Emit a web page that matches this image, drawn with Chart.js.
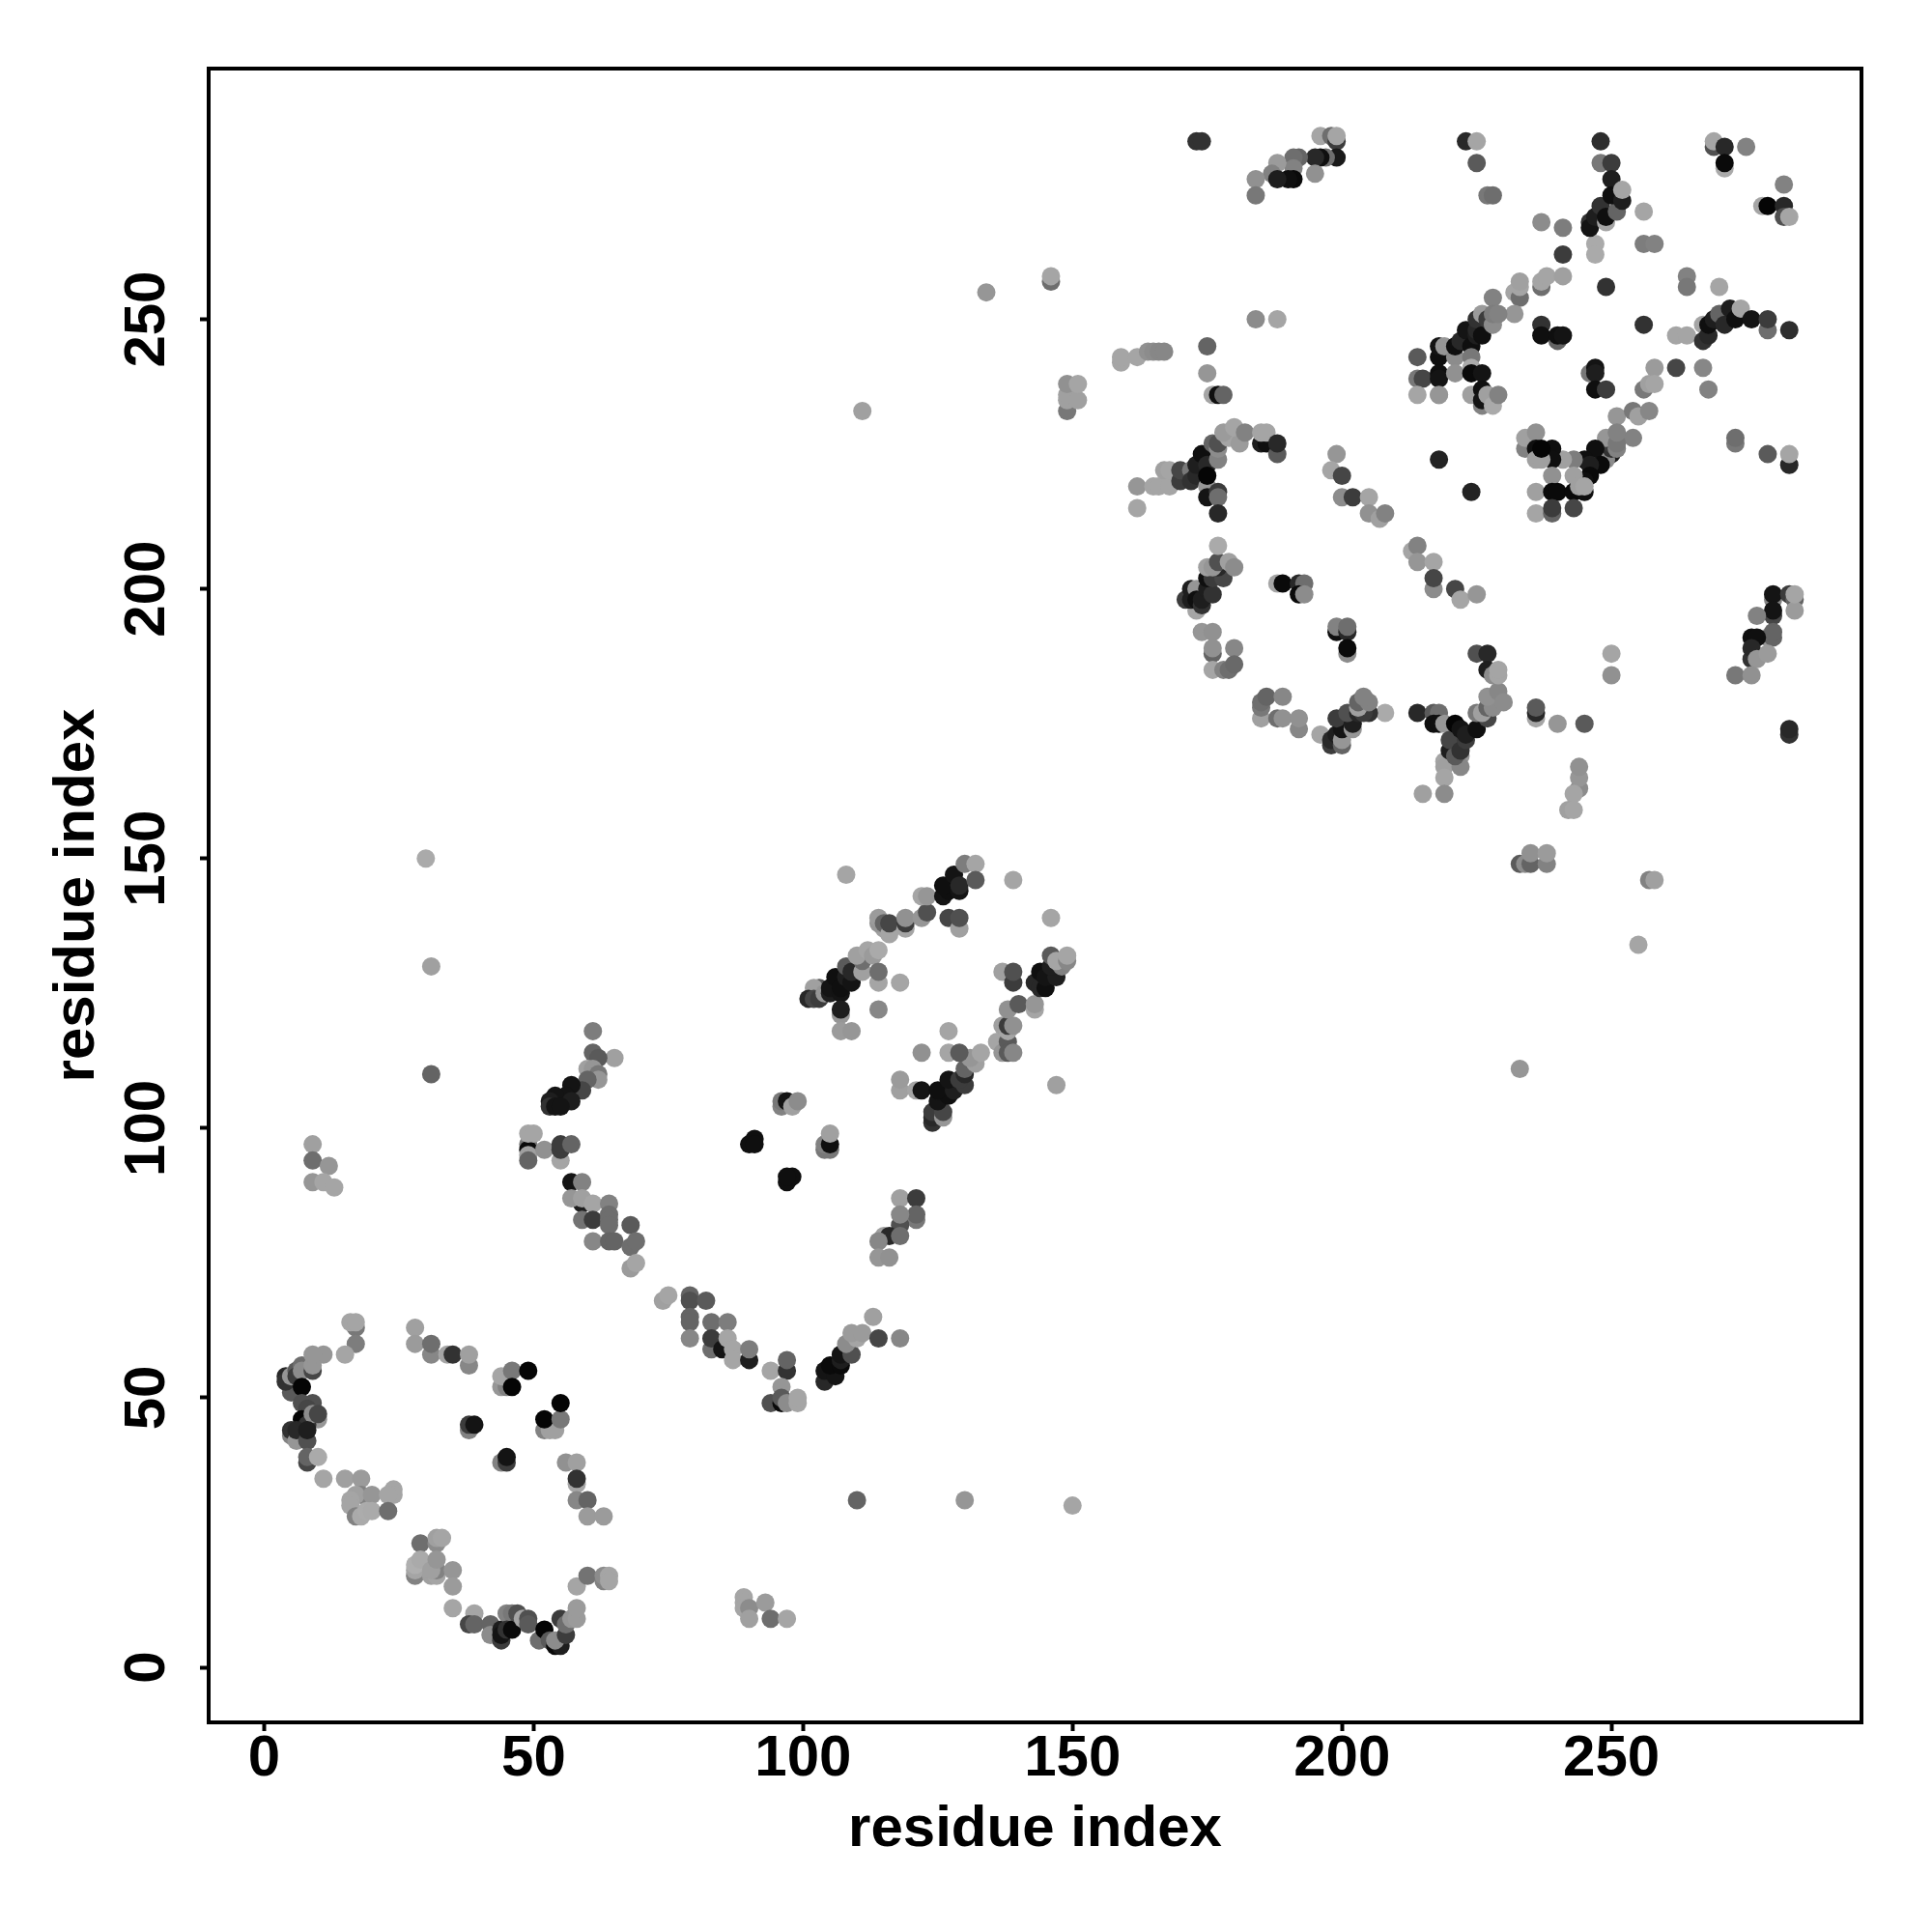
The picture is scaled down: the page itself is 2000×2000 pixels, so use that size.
<!DOCTYPE html>
<html><head><meta charset="utf-8">
<style>html,body{margin:0;padding:0;background:#fff}canvas{display:block}</style>
<script src="https://cdn.jsdelivr.net/npm/chart.js@4"></script>
</head><body><canvas id="c" width="2000" height="2000"></canvas>
<script>
const tickValues=[0,50,100,150,200,250];
const axisTitle="residue index";

const aX=[17,16,17,17,15,11,5,4,4,5,6,7,6,7,9,9,9,7,7,9,8,10,7,8,9,10,5,5,6,6,8,8,8,8,10];
const aY=[63,64,64,60,58,58,51,54,53,54,55,56,54,55,55,56,58,52,49,49,48,46,46,45,47,47,43,44,42,44,42,44,38,39,39];
const aS=[120,165,165,125,165,150,90,40,50,150,90,110,60,140,70,150,150,5,80,80,70,150,5,50,140,70,130,50,150,40,80,30,70,100,170];

const bX=[11,15,18,18,17,20,24,24,23,16,16,17,18,19,20,23,29,32,32,33,28,28,28,29,31,32,32,31,32,35,35,35];
const bY=[35,35,35,32,32,32,33,32,32,31,30,28,28,29,29,29,23,23,24,24,17,18,19,20,17,17,18,18,20,18,15,11];
const bS=[165,160,155,130,160,150,165,165,165,165,165,130,170,172,170,110,110,140,160,165,130,165,175,170,160,165,130,160,150,150,155,165];

const cX=[39,38,39,42,42,44,44,44,45,46,45,46,47,48,49,49,51,52,53,54,55,54,56,55,56,57,58,58,58,60,63,63,64,64];
const cY=[10,8,8,8,6,5,7,6,10,10,7,7,10,9,9,8,5,7,5,4,4,5,6,9,8,9,9,11,15,17,16,17,17,16];
const cS=[165,70,100,100,140,60,30,20,130,120,50,10,80,165,80,90,110,5,90,10,30,140,60,60,110,150,155,155,165,115,130,140,165,165];

const dX=[28,28,31,31,34,35,38,38,44,45,44,46,49,46,52,53,54,52,55,55,38,38,39,44,45,45,56,58,58,58,58,60,60,63];
const dY=[63,60,58,60,58,58,56,58,52,52,54,55,55,52,44,44,44,46,46,49,44,45,45,38,38,39,38,38,34,35,31,31,28,28];
const dS=[160,155,135,110,165,50,135,160,150,130,165,120,5,5,130,160,160,5,120,5,130,60,20,130,60,20,145,160,165,50,135,100,155,155];

const strayX=[89,89,89,90,90,93,94,97,110,130,150,9,9,12,9,11,13,30,31,31];
const strayY=[13,12,11,11,9,12,9,9,31,31,30,97,94,93,90,90,89,150,130,110];
const strayS=[165,165,165,140,160,155,110,165,100,150,165,160,110,150,150,165,165,170,160,100];

const eX=[61,61,65,62,60,61,62,62,60,59,57,56,54,53,57,53,54,55,49,49,49,49,49,50,52,55,55,55,57];
const eY=[118,114,113,113,111,111,110,109,109,107,108,106,106,105,105,104,104,104,97,96,95,94,99,99,96,94,96,97,97];
const eS=[125,100,160,90,160,150,120,150,100,70,20,20,20,30,30,50,20,20,120,10,160,100,165,165,145,165,60,60,100];

const fX=[57,59,59,57,59,61,64,59,61,64,64,64,68,61,64,65,68,69,68,69,74,75,79,79,82,79,79,79,83,86,83,83,85,86,87,87,90,90,94,97,97,96,94,96,96,97,99,99];
const fY=[90,90,86,87,87,86,86,83,83,84,83,82,82,79,79,79,78,79,74,75,68,69,69,68,68,65,64,61,64,64,59,61,59,61,59,57,57,59,55,55,57,52,49,49,50,49,49,50];
const fS=[20,130,30,150,160,165,130,115,60,110,110,110,90,135,100,100,110,110,155,165,160,165,100,80,90,100,100,135,110,125,110,60,20,165,165,165,30,125,165,50,100,150,80,10,90,140,165,165];

const gX=[104,104,106,105,107,107,107,109,108,110,109,111,114,113,118,90,91,91,97,98,97,96,96,97,98,99,104,105,104,105,105,118,121,121,121,118,118,115,116,118,114,114,116];
const gY=[53,55,54,56,56,57,58,58,60,61,62,62,61,65,61,97,98,97,90,91,91,104,105,105,104,105,96,96,97,97,99,87,87,83,84,82,84,80,80,80,79,76,76];
const gS=[40,20,20,10,10,30,20,80,140,165,155,155,70,160,135,15,15,15,15,15,15,130,120,20,160,140,120,120,130,15,160,160,60,120,100,80,135,160,40,110,135,150,145];

const hX=[103,102,101,102,103,104,105,105,106,107,107,108,109,108,109,107,107,107,109,111,111,110,112,113,114,114,114,114,118,108,115,114,114,115,116,116,119,119,119,122,123,122,123,127,129,129,126,127,126,129,128,129,130,132,132,139,146,147];
const hY=[126,126,124,124,124,125,125,126,128,125,126,128,127,130,129,121,122,118,118,129,131,132,133,132,133,122,127,129,127,147,137,138,139,138,136,138,137,138,139,139,140,143,143,139,137,139,143,144,145,144,147,145,149,149,146,146,139,108];
const hS=[90,160,40,70,60,150,30,20,15,20,15,30,20,90,40,150,30,155,150,160,110,160,165,155,170,135,165,110,165,165,160,150,155,100,165,70,165,60,145,150,80,165,150,70,160,80,20,15,15,20,20,40,125,165,90,165,165,160];

const iX=[124,124,124,126,126,118,118,121,122,125,127,125,128,127,130,129,130,130,132,131,133,122,127,127,129,136,137,138,138,139,137,138,138,139,138,140,137,139,139,143,143,143,144,145,144,145,147,146,148,146,147,149,149];
const iY=[101,102,103,102,103,107,109,107,107,105,106,107,107,109,108,109,110,111,112,113,114,114,118,114,114,116,114,116,114,114,119,118,119,119,122,123,129,127,129,122,123,127,126,126,129,128,128,130,130,132,131,131,132];
const iS=[50,40,60,150,70,160,155,165,20,20,15,15,30,20,60,60,40,100,160,150,165,145,165,165,90,165,150,90,90,135,160,165,60,145,145,90,160,60,80,165,150,40,40,15,15,20,30,30,130,90,165,135,165];

const jX=[173,174,196,198,199,199,199,197,196,195,192,191,191,188,187,191,190,188,195,184,184,223,225,225,227,228,237,241,241,247,247,249,248,248,250,250,246,246,247,248,249,249,251,250,252,252,256,256,258];
const jY=[283,283,284,284,283,284,280,280,280,280,280,280,278,279,277,276,276,276,277,276,273,283,283,279,273,273,268,267,262,264,262,256,283,279,279,276,268,267,269,271,268,269,270,273,272,274,270,264,264];
const jS=[50,50,165,110,60,165,25,110,15,40,100,110,130,155,130,10,15,30,145,145,120,40,165,90,120,110,140,125,60,170,170,50,45,120,60,30,50,20,30,50,165,15,100,15,30,165,165,125,130];

const kX=[269,269,271,275,271,271,282,278,279,282,282,283,264,264,270,267,262,264,267,268,268,269,270,271,272,273,274,276,279,279,283,256,237,240,237,240,241];
const kY=[282,283,282,282,278,279,275,271,271,271,269,269,258,256,256,249,247,247,246,247,249,250,251,249,252,250,252,250,248,250,248,249,249,246,247,247,247];
const kS=[80,165,40,130,170,10,130,165,5,40,80,165,130,120,165,165,165,165,50,40,15,30,100,40,30,15,165,20,110,60,45,50,50,100,15,15,20];

const lX=[232,233,233,233,232,237,237,238,241,228,218,218,219,214,214,215,214,218,218,218,221,221,221,222,223,224,225,225,224,225,226,226,227,228,228,229,224,224,226,224,226,226,226,227,228,229,218];
const lY=[255,254,256,257,251,256,257,258,258,254,243,245,245,243,239,239,236,236,240,239,243,240,245,246,248,245,247,248,243,250,251,247,250,249,251,251,241,240,240,236,234,237,235,236,234,236,236];
const lS=[165,110,165,160,150,110,165,165,160,130,15,20,150,90,120,70,165,155,15,20,140,145,15,40,20,15,30,40,120,50,155,15,60,140,125,130,170,10,20,160,130,15,20,160,170,130,150];

const mX=[246,247,247,247,249,258,262,267,268,256,257,258,251,254,255,257,254,250,249,250,250,249,251,251,251,247,248,245,246,246,245,243,241,239,239,234,234,236,236,236,237,237,239,243,236,239,240,243,245,244,245,236,239,239,243,218,224,273,273,279,283,283];
const mY=[240,241,240,237,237,241,241,241,237,237,238,238,232,233,232,233,228,225,224,226,227,228,226,227,229,226,223,224,223,221,220,224,224,226,224,226,228,229,226,224,224,226,221,221,218,218,218,218,218,219,219,214,214,215,215,224,218,227,228,225,223,225];
const mS=[120,20,30,15,60,155,70,135,130,120,160,165,150,120,160,135,130,30,140,50,60,150,130,120,130,15,10,15,30,10,15,125,160,15,15,130,160,145,15,160,160,5,145,160,160,10,10,10,15,160,165,165,100,60,70,35,35,120,110,90,40,165];

const nX=[175,175,159,159,162,164,165,166,167,149,149,149,151,149,151,111,146,146,134,184,188,176,177,178];
const nY=[245,240,242,243,243,244,244,244,244,233,235,236,235,238,238,233,257,258,255,250,250,236,236,236];
const nS=[100,150,165,165,165,145,140,135,135,120,160,160,160,145,165,160,110,165,150,140,165,165,15,100];

const oX=[162,162,165,166,168,167,168,170,170,172,172,173,173,174,175,175,175,175,177,177,177,176,177,177,177,179,178,181,180,182,185,186,185,186,188,188,199,198,200,200,202,205,205,207,208,213,214,214,217,217,217,221,222,225];
const oY=[219,215,219,219,219,222,222,220,222,222,220,221,223,225,223,219,221,217,218,217,214,227,224,226,227,228,229,227,230,229,227,227,229,229,225,227,225,222,221,217,217,217,214,213,214,207,208,205,205,200,202,200,198,199];
const oS=[150,165,165,165,165,160,165,60,70,120,50,40,30,15,40,150,5,20,60,110,40,100,130,140,80,165,155,155,165,130,30,15,165,165,90,40,150,165,70,140,60,165,145,160,130,165,130,150,165,140,70,70,165,150];

const pX=[173,171,172,172,173,173,174,174,175,176,175,176,178,175,177,176,177,177,179,180,174,176,176,176,180,176,178,179,180,188,189,192,193,192,193,199,199,201,201,201,201];
const pY=[196,198,198,200,200,198,197,198,200,199,202,202,202,204,204,204,205,208,205,204,192,192,188,189,189,185,185,185,186,201,201,201,201,199,199,192,193,192,193,188,189];
const pS=[165,60,30,30,150,15,50,30,30,50,15,60,70,160,40,150,80,170,160,140,150,145,100,145,135,165,130,110,105,165,10,40,110,10,140,15,130,40,110,140,10];

const qX=[185,185,185,186,189,188,189,192,192,196,208,198,198,199,200,200,200,199,202,202,201,203,205,204,203,203,205,204];
const qY=[176,178,179,180,180,176,176,174,176,173,177,171,172,173,171,172,174,176,174,175,177,177,177,177,178,179,179,180];
const qS=[160,120,110,100,135,110,145,135,145,165,170,60,40,30,100,150,20,60,150,30,80,40,50,60,160,100,130,130];

const q2X=[214,217,218,217,218,219,219,219,219,222,222,215,219,220,221,220,222,221,223,222,223,225,225,227,226,227,228,227,229,230,225,227,227,228,229,229];
const q2Y=[177,177,177,175,175,175,168,167,165,169,167,162,162,170,169,172,170,175,172,174,173,174,177,176,177,178,178,180,181,179,188,188,185,184,184,185];
const q2S=[40,90,110,15,15,150,165,160,165,150,135,160,140,30,90,70,50,5,60,20,30,15,120,70,160,100,140,145,135,140,80,40,30,140,165,165];

const rX=[236,236,236,240,245,244,244,244,243,242,243,233,234,235,235,238,238,255,233,257,258,250,250,283,283,280,280,283,284,284,284,280,280,277,279,280,280,276,277,276,276,277,279,273,276];
const rY=[176,177,178,175,175,163,165,167,162,159,159,149,149,149,151,149,151,134,111,146,146,188,184,173,174,198,199,199,198,196,199,195,196,195,191,191,192,191,191,187,189,187,188,184,184];
const rS=[165,40,90,150,90,140,150,145,165,160,165,90,140,100,145,130,155,165,150,130,160,165,145,50,40,130,20,60,100,155,165,70,20,130,150,100,100,15,15,50,40,150,155,120,145];

const regions=[[aX,aY,aS],[bX,bY,bS],[cX,cY,cS],[dX,dY,dS],[strayX,strayY,strayS],[eX,eY,eS],[fX,fY,fS],[gX,gY,gS],[hX,hY,hS],[iX,iY,iS],[jX,jY,jS],[kX,kY,kS],[nX,nY,nS],[oX,oY,oS],[pX,pY,pS],[qX,qY,qS],[q2X,q2Y,q2S],[lX,lY,lS],[mX,mY,mS],[rX,rY,rS]];
regions.forEach((r,i)=>{if(r[0].length!==r[1].length||r[0].length!==r[2].length)throw new Error('len '+i+' '+r[0].length+' '+r[1].length+' '+r[2].length);});

const points=[],colors=[];
regions.forEach(([xs,ys,ss])=>xs.forEach((x,i)=>{points.push({x,y:ys[i]});colors.push(`rgb(${ss[i]},${ss[i]},${ss[i]})`);}));

const font={family:'"Liberation Sans",Arial,sans-serif',size:60,weight:'bold'};
const fixTicks=s=>{s.ticks=tickValues.map(v=>({value:v}));};
const frame={id:'frame',afterDraw(ch){const a=ch.chartArea,g=ch.ctx;g.save();g.strokeStyle='#000';g.lineWidth=4;g.strokeRect(a.left,a.top,a.right-a.left,a.bottom-a.top);g.restore();}};

new Chart(document.getElementById('c'),{
 type:'scatter',
 data:{datasets:[{data:points,backgroundColor:colors,pointBackgroundColor:colors,pointBorderWidth:0,pointRadius:9.5,pointHoverRadius:9.5}]},
 plugins:[frame],
 options:{responsive:false,animation:false,devicePixelRatio:1,
  layout:{padding:{top:71,right:73,left:0,bottom:0}},
  plugins:{legend:{display:false},tooltip:{enabled:false},title:{display:false}},
  scales:{
   x:{type:'linear',min:-10.3,max:296.4,afterBuildTicks:fixTicks,
      afterFit(s){s.height=217;},
      grid:{display:true,drawOnChartArea:false,drawTicks:true,tickLength:9,tickWidth:4,tickColor:'#000'},
      border:{display:true,color:'#000',width:4},
      ticks:{color:'#000',font,padding:-7,maxRotation:0,minRotation:0,autoSkip:false},
      title:{display:true,text:axisTitle,color:'#000',font,padding:{top:0,bottom:70}}},
   y:{type:'linear',min:-10.2,max:296.5,afterBuildTicks:fixTicks,
      afterFit(s){s.width=216;},
      grid:{display:true,drawOnChartArea:false,drawTicks:true,tickLength:9,tickWidth:4,tickColor:'#000'},
      border:{display:true,color:'#000',width:4},
      ticks:{color:'#000',font,padding:3,minRotation:90,maxRotation:90,crossAlign:'center',autoSkip:false},
      title:{display:true,text:axisTitle,color:'#000',font,padding:{top:44,bottom:0}}}
  }}
});
</script></body></html>
